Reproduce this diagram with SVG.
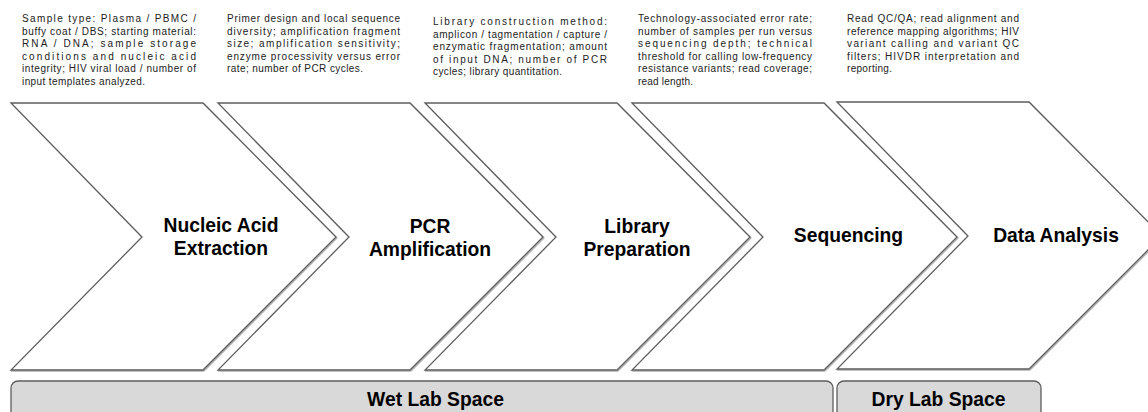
<svg xmlns="http://www.w3.org/2000/svg" width="1148" height="412" viewBox="0 0 1148 412">
<style>
.chev{fill:#ffffff;stroke:#5e5e5e;stroke-width:1.3;stroke-linejoin:miter;filter:url(#shadow)}
.lbl{font-family:"Liberation Sans",Arial,sans-serif;font-weight:bold;font-size:19.3px;fill:#000;text-anchor:middle}
.note{font-family:"Liberation Sans",Arial,sans-serif;font-size:10px;fill:#222}
.bar{fill:#d9d9d9;stroke:#5e5e5e;stroke-width:1.3}
</style>
<defs>
<filter id="shadow" x="-5%" y="-5%" width="110%" height="110%">
<feDropShadow dx="1" dy="1" stdDeviation="0.6" flood-color="#000" flood-opacity="0.3"/>
</filter>
<path id="chevShape" d="M0,103 L192,103 L325,237 L192,370 L0,370 L131,237 Z"/>
</defs>
<rect width="1148" height="412" fill="#ffffff"/>

<g id="notes">
<g id="note1" class="note">
<text x="22" y="22" textLength="174" lengthAdjust="spacing">Sample type: Plasma / PBMC /</text>
<text x="22" y="34.5" textLength="174" lengthAdjust="spacing">buffy coat / DBS; starting material:</text>
<text x="22" y="47" textLength="174" lengthAdjust="spacing">RNA / DNA; sample storage</text>
<text x="22" y="59.5" textLength="174" lengthAdjust="spacing">conditions and nucleic acid</text>
<text x="22" y="72" textLength="174" lengthAdjust="spacing">integrity; HIV viral load / number of</text>
<text x="22" y="84.5" textLength="123" lengthAdjust="spacing">input templates analyzed.</text>
</g>
<g id="note2" class="note">
<text x="227" y="22" textLength="173" lengthAdjust="spacing">Primer design and local sequence</text>
<text x="227" y="34.5" textLength="173" lengthAdjust="spacing">diversity; amplification fragment</text>
<text x="227" y="47" textLength="173" lengthAdjust="spacing">size; amplification sensitivity;</text>
<text x="227" y="59.5" textLength="173" lengthAdjust="spacing">enzyme processivity versus error</text>
<text x="227" y="72" textLength="136" lengthAdjust="spacing">rate; number of PCR cycles.</text>
</g>
<g id="note3" class="note">
<text x="433" y="25" textLength="174" lengthAdjust="spacing">Library construction method:</text>
<text x="433" y="37.5" textLength="174" lengthAdjust="spacing">amplicon / tagmentation / capture /</text>
<text x="433" y="50" textLength="174" lengthAdjust="spacing">enzymatic fragmentation; amount</text>
<text x="433" y="62.5" textLength="174" lengthAdjust="spacing">of input DNA; number of PCR</text>
<text x="433" y="75" textLength="129" lengthAdjust="spacing">cycles; library quantitation.</text>
</g>
<g id="note4" class="note">
<text x="638" y="22" textLength="174" lengthAdjust="spacing">Technology-associated error rate;</text>
<text x="638" y="34.5" textLength="174" lengthAdjust="spacing">number of samples per run versus</text>
<text x="638" y="47" textLength="174" lengthAdjust="spacing">sequencing depth; technical</text>
<text x="638" y="59.5" textLength="174" lengthAdjust="spacing">threshold for calling low-frequency</text>
<text x="638" y="72" textLength="174" lengthAdjust="spacing">resistance variants; read coverage;</text>
<text x="638" y="84.5" textLength="55" lengthAdjust="spacing">read length.</text>
</g>
<g id="note5" class="note">
<text x="847" y="22" textLength="172" lengthAdjust="spacing">Read QC/QA; read alignment and</text>
<text x="847" y="34.5" textLength="172" lengthAdjust="spacing">reference mapping algorithms; HIV</text>
<text x="847" y="47" textLength="172" lengthAdjust="spacing">variant calling and variant QC</text>
<text x="847" y="59.5" textLength="172" lengthAdjust="spacing">filters; HIVDR interpretation and</text>
<text x="847" y="72" textLength="45" lengthAdjust="spacing">reporting.</text>
</g>
</g>

<g id="connectors"></g>

<g id="step1">
<use href="#chevShape" class="chev" transform="translate(11,0)"/>
<text class="lbl" x="221" y="232">Nucleic Acid</text>
<text class="lbl" x="221" y="255">Extraction</text>
</g>
<g id="step2">
<use href="#chevShape" class="chev" transform="translate(218,0)"/>
<text class="lbl" x="430" y="233">PCR</text>
<text class="lbl" x="430" y="256">Amplification</text>
</g>
<g id="step3">
<use href="#chevShape" class="chev" transform="translate(425,0)"/>
<text class="lbl" x="637" y="233">Library</text>
<text class="lbl" x="637" y="256">Preparation</text>
</g>
<g id="step4">
<use href="#chevShape" class="chev" transform="translate(632,0)"/>
<text class="lbl" x="848.5" y="242">Sequencing</text>
</g>
<g id="step5">
<use href="#chevShape" class="chev" transform="translate(837,-1)"/>
<text class="lbl" x="1056" y="242">Data Analysis</text>
</g>

<g id="wetlab">
<rect class="bar" x="11" y="381" width="822" height="50" rx="7" ry="7"/>
<text class="lbl" x="435.5" y="406">Wet Lab Space</text>
</g>
<g id="drylab">
<rect class="bar" x="837" y="381" width="204" height="50" rx="7" ry="7"/>
<text class="lbl" x="938.5" y="406">Dry Lab Space</text>
</g>
</svg>
